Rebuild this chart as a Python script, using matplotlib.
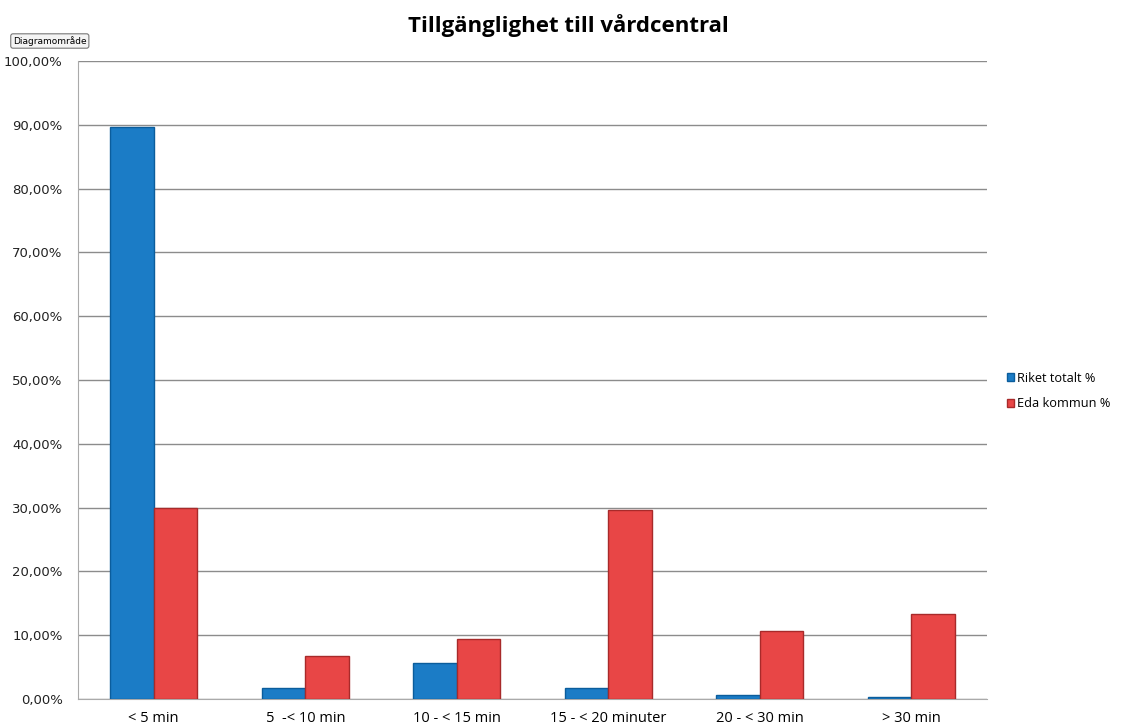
import numpy as np
import matplotlib
matplotlib.use('Agg')
import matplotlib.pyplot as plt
from matplotlib.ticker import FuncFormatter

categories = ['< 5 min', '5  -< 10 min', '10 - < 15 min', '15 - < 20 minuter', '20 - < 30 min', '> 30 min']
riket = [89.6, 1.7, 5.6, 1.7, 0.7, 0.3]
eda = [30.0, 6.7, 9.4, 29.6, 10.7, 13.4]
series_names = ['Riket totalt %', 'Eda kommun %']

blue = '#1b7cc6'
blue_edge = '#0b5d9c'
red = '#e84646'
red_edge = '#a82a2a'

fig = plt.figure(figsize=(11.21, 7.26), dpi=100, facecolor='white')
ax = fig.add_axes([78 / 1121, 1 - 699 / 726, (987 - 78) / 1121, (699 - 61) / 726])

x = np.arange(len(categories))
w = 0.287
ax.bar(x - w / 2, riket, w, color=blue, edgecolor=blue_edge, linewidth=1, label=series_names[0], zorder=3)
ax.bar(x + w / 2, eda, w, color=red, edgecolor=red_edge, linewidth=1, label=series_names[1], zorder=3)

ax.set_xlim(-0.5, len(categories) - 0.5)
ax.set_ylim(0, 100)
ax.set_yticks(np.arange(0, 101, 10))
ax.yaxis.set_major_formatter(FuncFormatter(lambda v, p: ('%.2f' % v).replace('.', ',') + '%'))
ax.grid(axis='y', color='#8c8c8c', linewidth=1, zorder=0)
ax.set_xticks(x)
ax.set_xticklabels(categories, fontsize=10.5, family='Open Sans')
ax.tick_params(axis='x', length=0, pad=9)
ax.tick_params(axis='y', length=0, pad=11, labelsize=9.5, labelcolor='#222222')

for s in ['top', 'right']:
    ax.spines[s].set_visible(False)
ax.spines['left'].set_color('#aaaaaa')
ax.spines['bottom'].set_color('#aaaaaa')

fig.text(0.507, 1 - 26 / 726, 'Tillgänglighet till vårdcentral', ha='center', va='center',
         fontsize=16, fontweight='bold', family='Open Sans')

fig.legend(loc='center left', bbox_to_anchor=(1004 / 1121, 1 - 391 / 726), frameon=False,
           borderpad=0.1, borderaxespad=0.1,
           handlelength=0.6, handleheight=0.6, handletextpad=0.25, labelspacing=0.95,
           prop={'family': 'Open Sans', 'size': 9.2})

fig.text(13 / 1121, 1 - 41 / 726, 'Diagramområde', ha='left', va='center', fontsize=6.5,
         bbox=dict(boxstyle='round,pad=0.25', fc='#f4f4f4', ec='#777777', lw=0.8))

fig.savefig('out.png', dpi=100, facecolor='white')
